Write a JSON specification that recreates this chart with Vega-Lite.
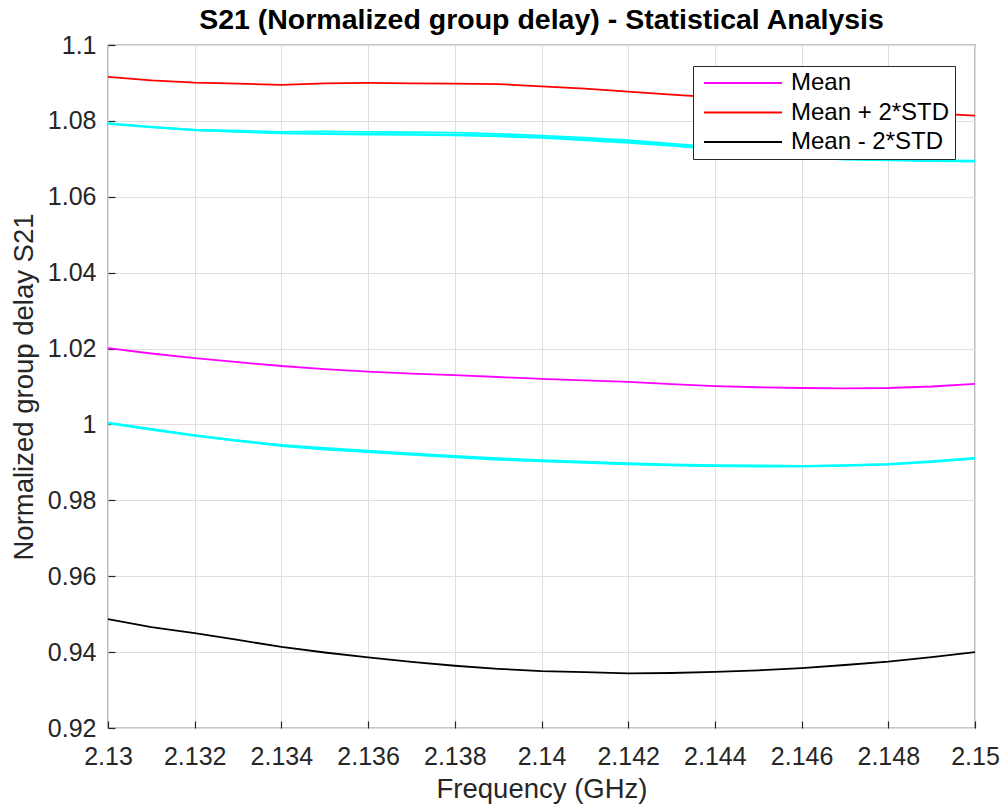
{
  "$schema": "https://vega.github.io/schema/vega-lite/v6.json",
  "autosize": "none",
  "width": 867,
  "height": 683,
  "padding": {"left": 108, "top": 45, "right": 32, "bottom": 82},
  "background": "white",
  "title": {
    "text": "S21 (Normalized group delay) - Statistical Analysis",
    "font": "Liberation Sans",
    "fontSize": 28.5,
    "fontWeight": "bold",
    "color": "#000000",
    "anchor": "middle",
    "offset": -1
  },
  "config": {
    "view": {"stroke": "#262626", "strokeWidth": 1.2},
    "axis": {
      "labelFont": "Liberation Sans",
      "titleFont": "Liberation Sans",
      "labelFontSize": 25,
      "titleFontSize": 27.5,
      "titleFontWeight": "normal",
      "labelColor": "#262626",
      "titleColor": "#262626",
      "gridColor": "#dfdfdf",
      "gridWidth": 1,
      "domain": false,
      "tickColor": "#262626",
      "tickSize": -7,
      "tickWidth": 1.2
    }
  },
  "data": {
    "values": [
      {"f": 2.130, "mean": 1.0201, "plus": 1.0916, "minus": 0.9487, "u1": 1.0794, "u2": 1.0793, "u3": 1.0792, "l1": 1.0005, "l2": 1.0004, "l3": 1.0003},
      {"f": 2.131, "mean": 1.0187, "plus": 1.0907, "minus": 0.9466, "u1": 1.0784, "u2": 1.0784, "u3": 1.0783, "l1": 0.9988, "l2": 0.9987, "l3": 0.9986},
      {"f": 2.132, "mean": 1.0175, "plus": 1.0901, "minus": 0.9450, "u1": 1.0776, "u2": 1.0777, "u3": 1.0775, "l1": 0.9972, "l2": 0.9971, "l3": 0.9970},
      {"f": 2.133, "mean": 1.0164, "plus": 1.0898, "minus": 0.9432, "u1": 1.0772, "u2": 1.0774, "u3": 1.0771, "l1": 0.9958, "l2": 0.9957, "l3": 0.9956},
      {"f": 2.134, "mean": 1.0154, "plus": 1.0895, "minus": 0.9414, "u1": 1.0768, "u2": 1.0771, "u3": 1.0767, "l1": 0.9946, "l2": 0.9945, "l3": 0.9943},
      {"f": 2.135, "mean": 1.0146, "plus": 1.0899, "minus": 0.9399, "u1": 1.0767, "u2": 1.0772, "u3": 1.0765, "l1": 0.9938, "l2": 0.9936, "l3": 0.9934},
      {"f": 2.136, "mean": 1.0139, "plus": 1.0900, "minus": 0.9386, "u1": 1.0766, "u2": 1.0771, "u3": 1.0764, "l1": 0.9931, "l2": 0.9929, "l3": 0.9927},
      {"f": 2.137, "mean": 1.0134, "plus": 1.0899, "minus": 0.9374, "u1": 1.0765, "u2": 1.0770, "u3": 1.0763, "l1": 0.9924, "l2": 0.9922, "l3": 0.9920},
      {"f": 2.138, "mean": 1.0130, "plus": 1.0898, "minus": 0.9364, "u1": 1.0764, "u2": 1.0769, "u3": 1.0762, "l1": 0.9917, "l2": 0.9915, "l3": 0.9913},
      {"f": 2.139, "mean": 1.0125, "plus": 1.0897, "minus": 0.9356, "u1": 1.0762, "u2": 1.0766, "u3": 1.0759, "l1": 0.9911, "l2": 0.9909, "l3": 0.9907},
      {"f": 2.140, "mean": 1.0120, "plus": 1.0891, "minus": 0.9350, "u1": 1.0758, "u2": 1.0761, "u3": 1.0755, "l1": 0.9906, "l2": 0.9904, "l3": 0.9903},
      {"f": 2.141, "mean": 1.0116, "plus": 1.0885, "minus": 0.9347, "u1": 1.0752, "u2": 1.0756, "u3": 1.0749, "l1": 0.9902, "l2": 0.9900, "l3": 0.9899},
      {"f": 2.142, "mean": 1.0112, "plus": 1.0877, "minus": 0.9344, "u1": 1.0745, "u2": 1.0749, "u3": 1.0742, "l1": 0.9898, "l2": 0.9896, "l3": 0.9895},
      {"f": 2.143, "mean": 1.0106, "plus": 1.0869, "minus": 0.9345, "u1": 1.0737, "u2": 1.0740, "u3": 1.0734, "l1": 0.9895, "l2": 0.9893, "l3": 0.9892},
      {"f": 2.144, "mean": 1.0101, "plus": 1.0862, "minus": 0.9348, "u1": 1.0728, "u2": 1.0731, "u3": 1.0725, "l1": 0.9893, "l2": 0.9891, "l3": 0.9890},
      {"f": 2.145, "mean": 1.0098, "plus": 1.0853, "minus": 0.9352, "u1": 1.0716, "u2": 1.0719, "u3": 1.0714, "l1": 0.9892, "l2": 0.9890, "l3": 0.9889},
      {"f": 2.146, "mean": 1.0096, "plus": 1.0844, "minus": 0.9358, "u1": 1.0705, "u2": 1.0708, "u3": 1.0704, "l1": 0.9891, "l2": 0.9890, "l3": 0.9889},
      {"f": 2.147, "mean": 1.0095, "plus": 1.0835, "minus": 0.9366, "u1": 1.0699, "u2": 1.0701, "u3": 1.0698, "l1": 0.9893, "l2": 0.9892, "l3": 0.9891},
      {"f": 2.148, "mean": 1.0096, "plus": 1.0827, "minus": 0.9375, "u1": 1.0697, "u2": 1.0698, "u3": 1.0696, "l1": 0.9896, "l2": 0.9895, "l3": 0.9894},
      {"f": 2.149, "mean": 1.0100, "plus": 1.0820, "minus": 0.9387, "u1": 1.0695, "u2": 1.0696, "u3": 1.0694, "l1": 0.9903, "l2": 0.9902, "l3": 0.9901},
      {"f": 2.150, "mean": 1.0107, "plus": 1.0814, "minus": 0.9400, "u1": 1.0694, "u2": 1.0695, "u3": 1.0693, "l1": 0.9912, "l2": 0.9911, "l3": 0.9910}
    ]
  },
  "encoding": {
    "x": {
      "field": "f",
      "type": "quantitative",
      "scale": {"domain": [2.13, 2.15], "nice": false, "zero": false},
      "axis": {
        "title": "Frequency (GHz)",
        "values": [2.13, 2.132, 2.134, 2.136, 2.138, 2.14, 2.142, 2.144, 2.146, 2.148, 2.15],
        "format": ".3~f",
        "labelPadding": 23,
        "titlePadding": 6,
        "labelFlush": false,
        "labelOverlap": false
      }
    },
    "y": {
      "field": "v",
      "type": "quantitative",
      "scale": {"domain": [0.92, 1.1], "nice": false, "zero": false},
      "axis": {
        "title": "Normalized group delay S21",
        "values": [0.92, 0.94, 0.96, 0.98, 1.0, 1.02, 1.04, 1.06, 1.08, 1.1],
        "format": ".2~f",
        "labelPadding": 19,
        "titlePadding": 9,
        "labelFlush": false,
        "labelOverlap": false
      }
    }
  },
  "layer": [
    {
      "transform": [{"fold": ["u1", "u2", "u3", "l1", "l2", "l3"], "as": ["trace", "v"]}],
      "mark": {"type": "line", "color": "#00FFFF", "strokeWidth": 1.8},
      "encoding": {"detail": {"field": "trace", "type": "nominal"}}
    },
    {
      "transform": [{"fold": ["mean", "plus", "minus"], "as": ["series", "v"]}],
      "mark": {"type": "line", "strokeWidth": 1.8},
      "encoding": {
        "color": {
          "field": "series",
          "type": "nominal",
          "scale": {"domain": ["mean", "plus", "minus"], "range": ["#FF00FF", "#FF0000", "#000000"]},
          "legend": {
            "title": null,
            "orient": "none",
            "legendX": 585,
            "legendY": 21,
            "labelExpr": "datum.value == 'mean' ? 'Mean' : datum.value == 'plus' ? 'Mean + 2*STD' : 'Mean - 2*STD'",
            "labelFont": "Liberation Sans",
            "labelFontSize": 24,
            "labelColor": "#000000",
            "labelOffset": 69,
            "labelLimit": 400,
            "symbolType": "M-0.6,0H7.2",
            "symbolSize": 400,
            "symbolStrokeWidth": 1.8,
            "symbolFillColor": "transparent",
            "rowPadding": 5.5,
            "padding": 5,
            "fillColor": "#FFFFFF",
            "strokeColor": "#262626"
          }
        }
      }
    }
  ]
}
